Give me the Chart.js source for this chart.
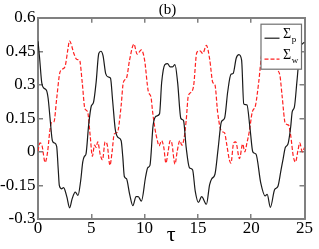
<!DOCTYPE html>
<html>
<head>
<meta charset="utf-8">
<script src="https://cdn.jsdelivr.net/npm/chart.js"></script>
<style>
  html, body { margin: 0; padding: 0; background: #fff; }
  canvas { display: block; }
</style>
</head>
<body>
<canvas id="chart" width="319" height="249"></canvas>
<script>
// ── Data ─────────────────────────────────────────────────

const xTicks = [0, 5, 10, 15, 20, 25];
const yTicks = [-0.3, -0.15, 0, 0.15, 0.3, 0.45, 0.6];
const seriesNames = ['Σ_p', 'Σ_w'];

const tauP = [0.0, 0.15, 0.35, 0.55, 0.8, 0.95, 1.15, 1.35, 1.55, 1.75, 1.9, 2.0, 2.2, 2.4, 2.7, 2.97, 3.2, 3.5, 3.75, 4.0,
  4.2, 4.35, 4.5, 4.75, 5.0, 5.2, 5.45, 5.7, 5.9, 6.1, 6.35, 6.6, 6.8, 7.0, 7.25, 7.5, 7.8, 7.95, 8.1, 8.3,
  8.6, 8.9, 9.2, 9.4, 9.7, 10.1, 10.3, 10.5, 10.8, 11.1, 11.4, 11.6, 11.9, 12.15, 12.4, 12.6, 12.85, 13.1, 13.4, 13.65,
  13.9, 14.2, 14.5, 14.75, 15.05, 15.35, 15.8, 16.1, 16.3, 16.6, 16.9, 17.2, 17.5, 17.8, 18.1, 18.3, 18.6, 18.85, 19.1, 19.3,
  19.6, 19.9, 20.15, 20.45, 20.9, 21.3, 21.5, 21.8, 22.2, 22.5, 22.8, 23.0, 23.2, 23.45, 23.7, 23.85, 24.05, 24.3, 24.6, 25.0];
const sigmaP = [0.495, 0.42, 0.31, 0.285, 0.275, 0.24, 0.14, 0.05, 0.04, 0.025, -0.08, -0.15, -0.165, -0.16, -0.2, -0.25, -0.21, -0.18, -0.195, -0.13,
  -0.045, -0.02, -0.01, 0.12, 0.205, 0.22, 0.31, 0.44, 0.45, 0.43, 0.35, 0.335, 0.33, 0.23, 0.1, 0.065, 0.05, -0.02, -0.11, -0.12,
  -0.19, -0.24, -0.2, -0.2, -0.22, -0.11, -0.07, -0.06, 0.12, 0.16, 0.17, 0.31, 0.39, 0.395, 0.38, 0.38, 0.39, 0.31, 0.15, 0.14,
  0.02, -0.07, -0.08, -0.175, -0.226, -0.2, -0.234, -0.146, -0.12, -0.1, 0.016, 0.134, 0.15, 0.27, 0.347, 0.35, 0.42, 0.435, 0.41, 0.215,
  0.21, 0.1, 0.0, -0.01, -0.14, -0.197, -0.19, -0.248, -0.168, -0.155, -0.08, -0.03, 0.02, 0.035, 0.11, 0.18, 0.2, 0.32, 0.465, 0.49];

const tauW = [0.0, 0.18, 0.37, 0.67, 0.9, 1.1, 1.25, 1.5, 1.75, 2.05, 2.3, 2.55, 2.8, 2.95, 3.4, 3.65, 3.9, 4.15, 4.4, 4.65,
  4.9, 5.1, 5.3, 5.45, 5.6, 5.85, 6.05, 6.3, 6.5, 6.75, 6.95, 7.15, 7.45, 7.8, 8.0, 8.3, 8.6, 9.0, 9.3, 9.7,
  10.0, 10.35, 10.6, 10.75, 10.95, 11.2, 11.35, 11.6, 11.8, 12.0, 12.2, 12.4, 12.55, 12.85, 13.05, 13.3, 13.5, 13.7, 13.9, 14.1,
  14.4, 14.6, 14.9, 15.2, 15.45, 15.8, 16.1, 16.4, 16.6, 16.85, 17.1, 17.3, 17.5, 17.7, 17.95, 18.1, 18.35, 18.55, 18.9, 19.2,
  19.4, 19.6, 19.8, 20.1, 20.4, 20.7, 21.0, 21.3, 21.6, 21.9, 22.2, 22.45, 22.7, 22.9, 23.2, 23.5, 23.7, 23.95, 24.15, 24.4,
  24.55, 24.8, 25.0];
const sigmaW = [0.004, 0.04, 0.03, -0.047, 0.0, 0.09, 0.13, 0.135, 0.237, 0.354, 0.37, 0.384, 0.457, 0.496, 0.435, 0.413, 0.41, 0.31, 0.193, 0.18,
  0.07, -0.02, 0.03, 0.02, 0.045, -0.015, -0.035, 0.045, 0.03, -0.06, 0.0, 0.08, 0.088, 0.207, 0.31, 0.33, 0.413, 0.482, 0.437, 0.456,
  0.41, 0.27, 0.245, 0.18, 0.11, 0.05, 0.027, 0.05, 0.02, -0.05, 0.0, 0.05, 0.04, -0.055, 0.0, 0.05, 0.03, 0.06, 0.14, 0.25,
  0.268, 0.296, 0.445, 0.452, 0.44, 0.476, 0.416, 0.31, 0.3, 0.178, 0.105, 0.09, 0.085, 0.035, -0.035, -0.05, 0.04, 0.045, -0.03, 0.035,
  0.0, 0.04, 0.085, 0.178, 0.207, 0.31, 0.44, 0.47, 0.455, 0.47, 0.42, 0.37, 0.34, 0.25, 0.127, 0.12, 0.075, -0.02, -0.045, 0.01,
  0.04, 0.0, 0.02];

// ── Chart setup ──────────────────────────────────────────

const FONT = "'Liberation Serif', 'DejaVu Serif', serif";
const FRAME = '#808080';
Chart.defaults.font.family = FONT;
Chart.defaults.color = '#000';

const toPoints = (xs, ys) => xs.map((x, i) => ({ x: x, y: ys[i] }));

function frameAxis(extra) {
  return Object.assign({
    type: 'linear',
    grid: { drawOnChartArea: false, drawTicks: true, tickLength: -5, color: FRAME, lineWidth: 1.5 },
    border: { display: true, color: FRAME, width: 2 }
  }, extra);
}

// a tiny legend drawn inside the plot, like the original
const insideLegend = {
  id: 'insideLegend',
  afterDatasetsDraw(chart) {
    const { ctx, chartArea } = chart;
    const x0 = chartArea.right - 43.5, y0 = chartArea.top + 6.5;
    ctx.save();
    ctx.fillStyle = '#fff';
    ctx.strokeStyle = '#707070';
    ctx.lineWidth = 1.2;
    ctx.fillRect(x0, y0, 40.5, 45);
    ctx.strokeRect(x0, y0, 40.5, 45);
    chart.data.datasets.forEach((ds, i) => {
      const yy = y0 + 14 + i * 21;
      ctx.beginPath();
      ctx.strokeStyle = ds.borderColor;
      ctx.lineWidth = ds.borderWidth;
      ctx.setLineDash(ds.borderDash || []);
      ctx.moveTo(x0 + 3.5, yy);
      ctx.lineTo(x0 + 18.5, yy);
      ctx.stroke();
      ctx.setLineDash([]);
      const [main, sub] = ds.label.split('_');
      ctx.fillStyle = '#000';
      ctx.textBaseline = 'alphabetic';
      ctx.font = '14px ' + FONT;
      ctx.fillText(main, x0 + 22, yy);
      const w = ctx.measureText(main).width;
      ctx.font = '9px ' + FONT;
      ctx.fillText(sub, x0 + 22 + w + 0.5, yy + 4);
    });
    ctx.restore();
  }
};

new Chart(document.getElementById('chart'), {
  type: 'line',
  data: {
    datasets: [
      {
        label: seriesNames[0],
        data: toPoints(tauP, sigmaP),
        borderColor: '#1a1a1a',
        borderWidth: 1.2,
        pointRadius: 0,
        cubicInterpolationMode: 'monotone'
      },
      {
        label: seriesNames[1],
        data: toPoints(tauW, sigmaW),
        borderColor: '#ff2020',
        borderWidth: 1.2,
        borderDash: [4, 2],
        pointRadius: 0,
        cubicInterpolationMode: 'monotone'
      }
    ]
  },
  options: {
    responsive: false,
    animation: false,
    layout: { padding: 0 },
    plugins: { legend: { display: false }, tooltip: { enabled: false } },
    scales: {
      x: frameAxis({
        position: 'bottom', min: 0, max: 25,
        afterBuildTicks: s => { s.ticks = xTicks.map(v => ({ value: v })); },
        afterFit: s => { s.height = 30; },
        ticks: { font: { size: 17, lineHeight: 1 }, padding: 6, maxRotation: 0, autoSkip: false },
        title: { display: true, text: 'τ', font: { size: 22, lineHeight: 1 }, padding: { top: 0, bottom: 3 } }
      }),
      x2: frameAxis({
        position: 'top', min: 0, max: 25,
        afterBuildTicks: s => { s.ticks = xTicks.map(v => ({ value: v })); },
        afterFit: s => { s.height = 15; },
        ticks: { display: false },
        title: { display: true, text: '(b)  ', font: { size: 15, lineHeight: 1 }, padding: 0 }
      }),
      y: frameAxis({
        position: 'left', min: -0.3, max: 0.6,
        afterBuildTicks: s => { s.ticks = yTicks.map(v => ({ value: v })); },
        afterFit: s => { s.width = 38; },
        ticks: { font: { size: 17 }, padding: 7.5, callback: v => String(Math.round(v * 100) / 100) }
      }),
      y2: frameAxis({
        position: 'right', min: -0.3, max: 0.6,
        afterBuildTicks: s => { s.ticks = yTicks.map(v => ({ value: v })); },
        afterFit: s => { s.width = 9; },
        ticks: { display: false }
      })
    }
  },
  plugins: [insideLegend]
});
</script>
</body>
</html>
